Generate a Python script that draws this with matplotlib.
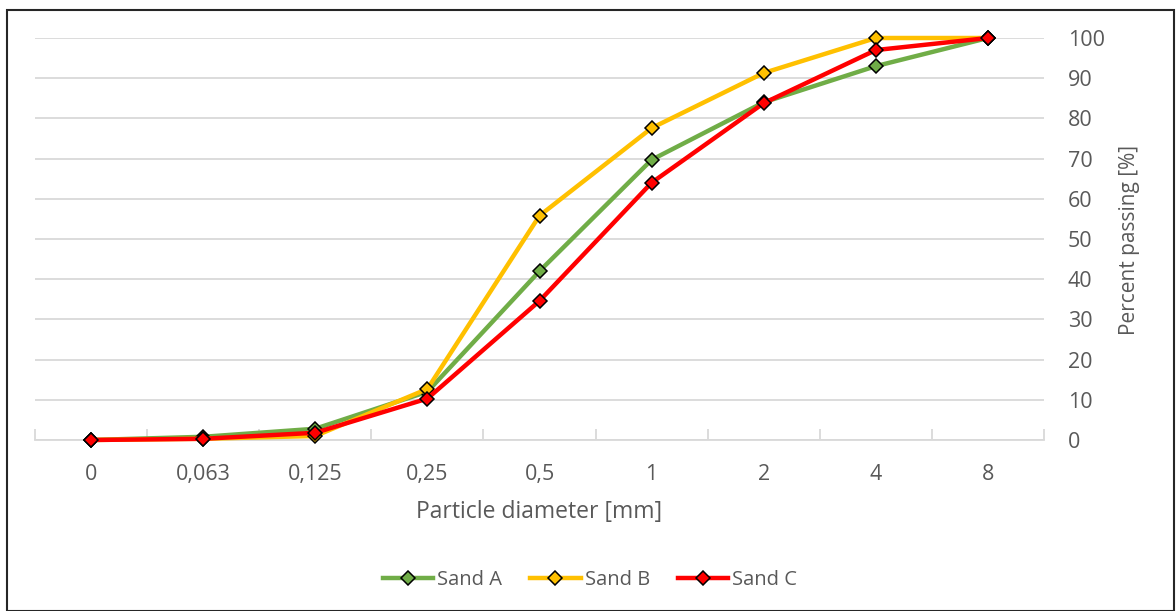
import matplotlib.pyplot as plt
from matplotlib.lines import Line2D
from matplotlib.patches import Rectangle
import numpy as np

plt.rcParams['font.family'] = ['Open Sans', 'DejaVu Sans']

categories = ['0', '0,063', '0,125', '0,25', '0,5', '1', '2', '4', '8']
sand_a = [0, 0.8, 2.8, 12.0, 42.0, 69.7, 84.0, 93.0, 100]
sand_b = [0, 0.3, 1.0, 12.7, 55.8, 77.6, 91.3, 100, 100]
sand_c = [0, 0.3, 1.8, 10.3, 34.6, 64.0, 83.8, 97.0, 100]
yticks = list(range(0, 101, 10))

series = [('Sand A', sand_a, '#70ad47'),
          ('Sand B', sand_b, '#ffc000'),
          ('Sand C', sand_c, '#ff0000')]

grey = '#595959'
W, H = 1176, 611
fig = plt.figure(figsize=(11.76, 6.11), dpi=100)
ax = fig.add_axes([35/W, 1-440/H, (1044-35)/W, (440-38)/H])

xpos = np.arange(len(categories))
for name, vals, col in series:
    ax.plot(xpos, vals, color=col, lw=3.2, marker='D', ms=7.5, mfc=col,
            mec='black', mew=1.1, label=name, clip_on=False, zorder=3)

ax.set_xlim(-0.5, len(categories) - 0.5)
ax.set_ylim(0, 100)
ax.set_yticks(yticks)
ax.yaxis.tick_right()
ax.grid(axis='y', color='#d9d9d9', lw=1.3)
ax.set_axisbelow(True)
for s in ['top', 'left', 'right']:
    ax.spines[s].set_visible(False)
ax.spines['bottom'].set_color('#d9d9d9')
ax.spines['bottom'].set_linewidth(1.3)

ax.set_xticks(xpos)
ax.set_xticklabels(categories)
ax.set_xticks(np.arange(-0.5, len(categories), 1), minor=True)
ax.tick_params(axis='x', which='major', length=0, pad=17, labelsize=15.5, labelcolor=grey)
ax.tick_params(axis='x', which='minor', direction='in', length=8, width=1.3, color='#d9d9d9')
ax.tick_params(axis='y', length=0, pad=17, labelsize=15.5, labelcolor=grey)
for t in ax.get_yticklabels():
    t.set_horizontalalignment('left')

fig.text(539/W, 1-512/H, 'Particle diameter [mm]', fontsize=16.5, color=grey,
         ha='center', va='center')
fig.text(1130/W, 1-240/H, 'Percent passing [%]', fontsize=15, color=grey,
         ha='center', va='center', rotation=90)

handles = [Line2D([0], [0], color=c, lw=3.2, marker='D', ms=7.5, mfc=c, mec='black', mew=1.1)
           for _, _, c in series]
fig.legend(handles, [n for n, _, _ in series], loc='center', bbox_to_anchor=(590/W, 1-580/H),
           ncol=3, frameon=False, fontsize=14.5, labelcolor=grey, handlelength=2.5,
           handletextpad=0.2, columnspacing=1.4)

fig.patches.append(Rectangle((7/W, 0), (1174-7)/W, 1-10/H, transform=fig.transFigure,
                             fill=False, ec='#262626', lw=1.5))

fig.savefig('out.png', dpi=100)
